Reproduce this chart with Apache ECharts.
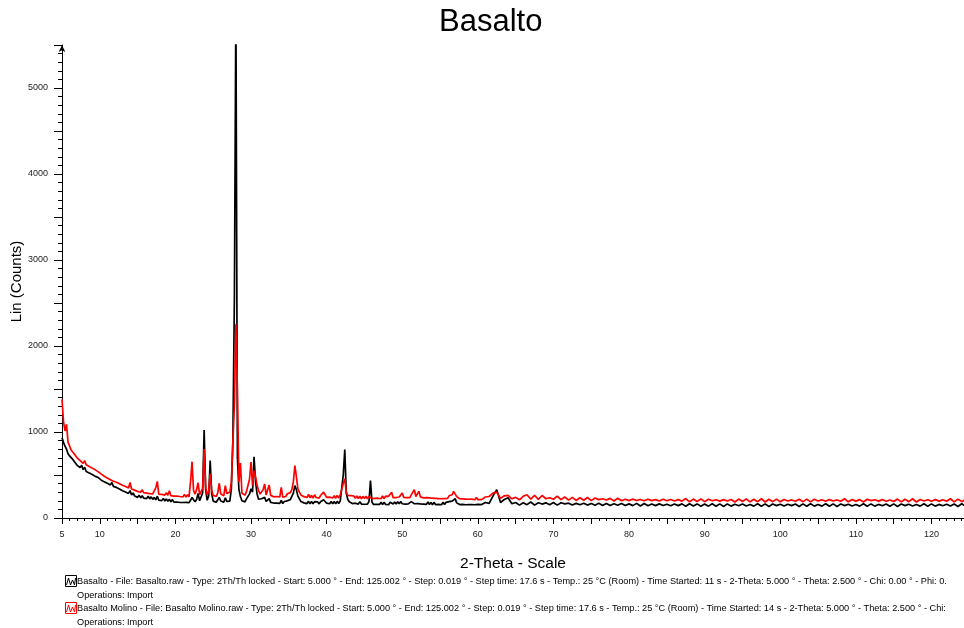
<!DOCTYPE html>
<html>
<head>
<meta charset="utf-8">
<script src="https://cdn.jsdelivr.net/npm/echarts@6/dist/echarts.min.js"></script>
<style>html,body{margin:0;padding:0;background:#fff}#c{width:964px;height:628px}</style>
</head>
<body>
<div id="c"></div>
<script>
// Scan grid: segment A 5.0..60.0 step 0.2, segment B 60.5..125.0 step 0.5
const segAStart = 5.0, segAStep = 0.2;
const segBStart = 60.5, segBStep = 0.5;

// Basalto (black) counts
const basaltoA = [
934,880,835,800,748,722,700,684,660,652,
612,632,588,614,562,590,540,558,524,536,
505,520,484,500,470,476,440,458,420,440,
405,428,385,412,368,390,356,374,338,356,
318,340,302,322,286,318,268,292,256,276,
240,266,234,258,232,252,226,254,222,246,
216,240,210,252,208,230,202,228,198,222,
194,218,188,214,184,204,186,200,180,202,
180,200,182,204,178,206,240,212,188,216,
285,200,218,290,1023,330,206,255,667,280,
196,214,184,212,240,198,210,182,235,194,
212,196,340,900,2550,6000,700,330,250,200,
218,188,222,212,280,340,300,713,420,280,
218,200,224,206,240,192,212,225,182,200,
174,196,172,194,170,205,168,192,172,200,
188,214,235,290,377,330,255,222,192,206,
176,198,168,194,164,192,166,190,170,188,
164,190,176,212,196,172,192,166,192,164,
192,164,194,168,196,210,500,795,290,215,
188,200,168,190,172,186,162,190,162,182,
160,182,162,190,435,185,158,178,160,180,
158,184,156,182,158,180,154,184,185,162,
186,162,190,164,192,166,184,162,182,164,
160,190,188,166,184,168,190,164,186,162,
184,158,186,156,182,154,182,156,176,158,
180,154,184,156,182,162,190,170,196,215,
225,176,184,156,178,158,176,154,176,156,
176,156,174,154,176,158
];
const basaltoB = [
156,180,170,255,330,180,215,235,166,180,
150,178,155,186,150,178,162,176,154,180,
150,178,164,172,152,170,154,172,150,168,
148,172,146,170,146,166,148,168,146,164,
144,170,140,168,142,162,144,164,146,160,
142,162,144,164,136,166,140,164,136,162,
138,166,136,164,134,164,138,160,142,162,
140,158,138,166,136,164,134,162,144,160,
140,160,144,162,134,164,136,166,138,158,
138,166,136,164,134,162,144,160,140,158,
138,166,136,164,138,158,142,162,136,164,
134,162,144,160,140,158,138,166,136,164,
138,158,142,160,140,162,134,166,138,160
];

// Basalto Molino (red) counts
const molinoA = [
1380,1120,1012,1090,880,838,790,782,748,742,
700,702,668,680,636,668,618,634,600,612,
580,590,560,572,536,540,510,522,486,498,
464,480,446,462,428,444,416,430,398,410,
380,398,366,384,348,412,338,354,324,340,
310,332,300,328,294,312,290,308,284,302,
280,300,350,425,278,296,274,292,266,294,
264,318,260,282,254,274,256,270,250,267,
246,274,243,272,246,420,655,320,278,330,
410,273,287,340,803,360,268,310,513,320,
263,280,250,292,404,278,280,260,377,285,
263,302,420,880,1300,2253,1499,420,640,288,
297,266,307,330,450,650,380,551,480,380,
320,278,297,330,397,268,282,385,263,274,
246,264,250,262,244,357,243,260,250,282,
263,295,330,420,609,480,340,300,268,280,
248,268,238,274,236,264,232,270,238,258,
232,262,250,300,270,240,258,242,260,233,
260,230,264,233,270,270,400,455,300,262,
243,260,240,256,228,258,226,254,224,252,
226,254,223,252,250,226,246,228,248,230,
252,224,256,226,254,234,252,252,300,236,
256,238,258,244,260,290,240,258,238,256,
236,268,270,330,250,264,310,246,262,234,
256,238,252,234,250,230,248,228,246,226,
244,224,242,226,246,228,258,240,270,310,
330,248,252,224,242,222,240,220,238,218,
240,220,238,212,240,213
];
const molinoB = [
214,244,250,290,300,228,258,262,223,240,
212,252,270,220,264,216,262,224,236,218,
255,214,244,208,240,204,236,206,238,202,
232,214,224,210,228,198,230,200,218,202,
220,204,216,200,218,202,214,198,218,200,
216,198,214,196,226,188,220,192,222,190,
218,200,212,196,214,198,216,186,220,192,
222,188,218,190,224,186,218,190,220,188,
216,198,210,194,218,190,220,188,218,198,
212,194,214,198,210,194,224,188,216,196,
214,186,218,202,212,196,214,194,210,192,
220,188,218,190,224,186,216,198,212,194,
214,196,212,194,224,188,220,190,218,188
];

const seriesNames = ['Basalto', 'Basalto Molino'];
const legendLines = [
  'Basalto - File: Basalto.raw - Type: 2Th/Th locked - Start: 5.000 ° - End: 125.002 ° - Step: 0.019 ° - Step time: 17.6 s - Temp.: 25 °C (Room) - Time Started: 11 s - 2-Theta: 5.000 ° - Theta: 2.500 ° - Chi: 0.00 ° - Phi: 0.',
  'Operations: Import',
  'Basalto Molino - File: Basalto Molino.raw - Type: 2Th/Th locked - Start: 5.000 ° - End: 125.002 ° - Step: 0.019 ° - Step time: 17.6 s - Temp.: 25 °C (Room) - Time Started: 14 s - 2-Theta: 5.000 ° - Theta: 2.500 ° - Chi:',
  'Operations: Import'
];

function build(start, step, vals) {
  return vals.map((v, i) => [Math.round((start + i * step) * 1000) / 1000, v]);
}
const blackData = build(segAStart, segAStep, basaltoA).concat(build(segBStart, segBStep, basaltoB));
const redData = build(segAStart, segAStep, molinoA).concat(build(segBStart, segBStep, molinoB));

const FONT = '"Liberation Sans", Arial, sans-serif';
const chart = echarts.init(document.getElementById('c'), null, {renderer: 'canvas'});

function icon(y, color) {
  return {
    type: 'group',
    children: [
      {type: 'rect', shape: {x: 65.5, y: y - 5.5, width: 11, height: 11}, style: {fill: 'none', stroke: color, lineWidth: 1}},
      {type: 'polyline', shape: {points: [[66.5, y + 4], [68.5, y - 3], [70.5, y + 4], [72.5, y - 1], [74.5, y + 4], [75.5, y - 3]]}, style: {fill: 'none', stroke: color, lineWidth: 1}}
    ]
  };
}

const option = {
  animation: false,
  backgroundColor: '#fff',
  title: {
    text: 'Basalto', left: 434, top: 2,
    textStyle: {fontFamily: FONT, fontSize: 31, fontWeight: 'normal', color: '#000'}
  },
  grid: {left: 62, right: 0, top: 45, bottom: 110, containLabel: false, outerBoundsMode: 'none'},
  xAxis: {
    type: 'value', min: 5, max: 124.3, interval: 5,
    name: '2-Theta - Scale', nameLocation: 'middle', nameGap: 38, nameMoveOverlap: false,
    nameTextStyle: {fontFamily: FONT, fontSize: 15.5, color: '#000'},
    axisLine: {show: true, onZero: false, lineStyle: {color: '#000', width: 1}},
    axisTick: {show: true, length: 6, lineStyle: {color: '#000'}},
    minorTick: {show: true, splitNumber: 5, length: 3, lineStyle: {color: '#000'}},
    splitLine: {show: false},
    axisLabel: {
      fontFamily: FONT, fontSize: 9, color: '#222', margin: 12, showMaxLabel: false,
      formatter: v => (v === 5 || v % 10 === 0) ? String(v) : ''
    }
  },
  yAxis: {
    type: 'value', min: 0, max: 5500, interval: 500,
    name: 'Lin (Counts)', nameLocation: 'middle', nameGap: 38, nameRotate: 90, nameMoveOverlap: false,
    nameTextStyle: {fontFamily: FONT, fontSize: 15, color: '#000'},
    axisLine: {show: true, symbol: ['none', 'arrow'], symbolSize: [5, 7], lineStyle: {color: '#000', width: 1}},
    axisTick: {show: true, length: 8, lineStyle: {color: '#000'}},
    minorTick: {show: true, splitNumber: 5, length: 4, lineStyle: {color: '#000'}},
    splitLine: {show: false},
    axisLabel: {
      fontFamily: FONT, fontSize: 9, color: '#222', margin: 14,
      formatter: v => (v % 1000 === 0) ? String(v) : ''
    }
  },
  series: [
    {name: seriesNames[0], type: 'line', data: blackData, showSymbol: false, clip: true,
     lineStyle: {color: '#000', width: 1.7}, itemStyle: {color: '#000'}},
    {name: seriesNames[1], type: 'line', data: redData, showSymbol: false, clip: true,
     lineStyle: {color: '#ff0000', width: 1.7}, itemStyle: {color: '#ff0000'}}
  ],
  graphic: [
    icon(581, '#000'),
    icon(608, '#ff0000'),
    {type: 'text', left: 77, top: 577, style: {text: legendLines[0], font: '9.2px ' + FONT, fill: '#000'}},
    {type: 'text', left: 77, top: 591, style: {text: legendLines[1], font: '9.2px ' + FONT, fill: '#000'}},
    {type: 'text', left: 77, top: 604, style: {text: legendLines[2], font: '9.2px ' + FONT, fill: '#000'}},
    {type: 'text', left: 77, top: 618, style: {text: legendLines[3], font: '9.2px ' + FONT, fill: '#000'}}
  ]
};
chart.setOption(option);
</script>
</body>
</html>
